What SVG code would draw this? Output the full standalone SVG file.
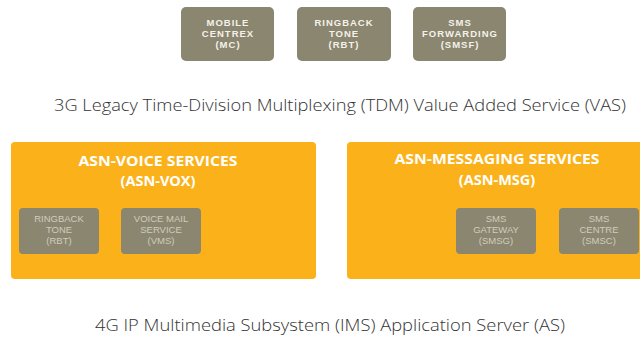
<svg xmlns="http://www.w3.org/2000/svg" width="640" height="339" viewBox="0 0 640 339">
<style>
.top{fill:#8b8670}
.topt{font-family:"Liberation Sans",Arial,sans-serif;font-size:9.5px;font-weight:bold;fill:#f4f2ea;text-anchor:middle;letter-spacing:1px}
.grp{fill:#fbb21a}
.grpt{font-family:"Open Sans","Liberation Sans",sans-serif;font-size:14.5px;font-weight:bold;fill:#ffffff;text-anchor:middle}
.in{fill:#8b8670}
.int{font-family:"Liberation Sans",Arial,sans-serif;font-size:9.5px;fill:#cfccbd;text-anchor:middle}
.cap{font-family:"Open Sans","Liberation Sans",sans-serif;font-size:17px;font-weight:300;fill:#333333}
</style>
<rect width="640" height="339" fill="#ffffff"/>
<g id="mc"><rect class="top" x="181" y="7" width="93" height="54" rx="5"/>
<text class="topt" x="228" y="26">MOBILE</text><text class="topt" x="228" y="37">CENTREX</text><text class="topt" x="228" y="48">(MC)</text></g>
<g id="rbt-top"><rect class="top" x="297" y="7" width="94" height="54" rx="5"/>
<text class="topt" x="344" y="26">RINGBACK</text><text class="topt" x="344" y="37">TONE</text><text class="topt" x="344" y="48">(RBT)</text></g>
<g id="smsf"><rect class="top" x="413" y="7" width="93" height="54" rx="5"/>
<text class="topt" x="460" y="26">SMS</text><text class="topt" x="460" y="37" textLength="76" lengthAdjust="spacingAndGlyphs">FORWARDING</text><text class="topt" x="460" y="48">(SMSF)</text></g>
<text class="cap" x="54" y="111" textLength="572" lengthAdjust="spacingAndGlyphs">3G Legacy Time-Division Multiplexing (TDM) Value Added Service (VAS)</text>
<g id="asn-vox"><rect class="grp" x="11" y="142" width="305" height="137" rx="4"/>
<text class="grpt" x="158" y="166" textLength="159" lengthAdjust="spacingAndGlyphs">ASN-VOICE SERVICES</text><text class="grpt" x="158" y="186">(ASN-VOX)</text></g>
<g id="rbt"><rect class="in" x="19" y="208" width="80" height="46" rx="4"/>
<text class="int" x="59" y="222">RINGBACK</text><text class="int" x="59" y="233">TONE</text><text class="int" x="59" y="244">(RBT)</text></g>
<g id="vms"><rect class="in" x="121" y="208" width="80" height="46" rx="4"/>
<text class="int" x="161" y="222">VOICE MAIL</text><text class="int" x="161" y="233">SERVICE</text><text class="int" x="161" y="244">(VMS)</text></g>
<g id="asn-msg"><rect class="grp" x="347" y="142" width="300" height="137" rx="4"/>
<text class="grpt" x="497" y="164" textLength="205" lengthAdjust="spacingAndGlyphs">ASN-MESSAGING SERVICES</text><text class="grpt" x="497" y="185">(ASN-MSG)</text></g>
<g id="smsg"><rect class="in" x="456" y="208" width="80" height="46" rx="4"/>
<text class="int" x="496" y="222">SMS</text><text class="int" x="496" y="233">GATEWAY</text><text class="int" x="496" y="244">(SMSG)</text></g>
<g id="smsc"><rect class="in" x="559" y="208" width="80" height="46" rx="4"/>
<text class="int" x="599" y="222">SMS</text><text class="int" x="599" y="233">CENTRE</text><text class="int" x="599" y="244">(SMSC)</text></g>
<g id="connectors"></g>
<text class="cap" x="95" y="331" textLength="470" lengthAdjust="spacingAndGlyphs">4G  IP Multimedia Subsystem (IMS) Application Server (AS)</text>
</svg>
